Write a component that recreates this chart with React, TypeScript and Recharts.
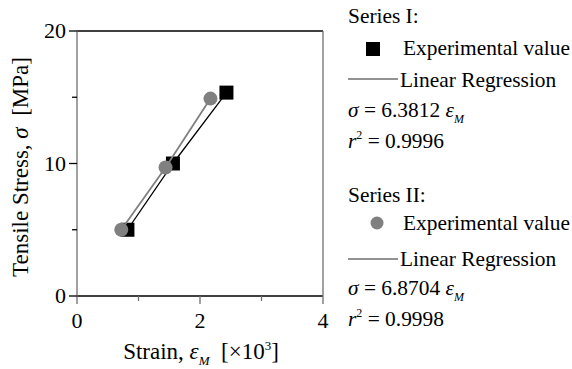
import React from "react";
import { ScatterChart, Scatter, XAxis, YAxis } from "recharts";

// Series I: squares (black), Series II: circles (gray)
const seriesOneStrain = [0.82, 1.56, 2.43];
const seriesOneStress = [5.0, 10.0, 15.35];
const seriesTwoStrain = [0.72, 1.44, 2.17];
const seriesTwoStress = [5.0, 9.7, 14.9];

const xTicks = [0, 1, 2, 3, 4];
const xMajor = [0, 2, 4];
const yTicks = [0, 5, 10, 15, 20];
const yMajor = [0, 10, 20];

const FONT = "'Liberation Serif', 'Times New Roman', serif";
const FS = 22;
const LEGEND_FS = 21.4;
const TITLE_FS = 23;
const GRAY = "#6e6e6e";

const seriesOne = seriesOneStrain.map((x, i) => ({ x, y: seriesOneStress[i] }));
const seriesTwo = seriesTwoStrain.map((x, i) => ({ x, y: seriesTwoStress[i] }));

function BottomTick(props: any) {
  const { x, y, payload } = props;
  const major = xMajor.includes(payload.value);
  return (
    <g>
      <line x1={x} x2={x} y1={y} y2={y + (major ? 8 : 5)} stroke={GRAY} strokeWidth={1.3} />
      {major && (
        <text x={x} y={y + 32} textAnchor="middle" fontSize={FS} fontFamily={FONT} fill="#000">
          {payload.value}
        </text>
      )}
    </g>
  );
}

function TopTick(props: any) {
  const { x, y, payload } = props;
  const major = xMajor.includes(payload.value);
  return <line x1={x} x2={x} y1={y} y2={y - (major ? 8 : 5)} stroke={GRAY} strokeWidth={1.3} />;
}

function LeftTick(props: any) {
  const { x, y, payload } = props;
  const major = yMajor.includes(payload.value);
  return (
    <g>
      <line x1={x} x2={x - (major ? 8 : 5)} y1={y} y2={y} stroke="#000" strokeWidth={1.3} />
      {major && (
        <text x={x - 11} y={y + 7} textAnchor="end" fontSize={FS} fontFamily={FONT} fill="#000">
          {payload.value}
        </text>
      )}
    </g>
  );
}

function RightTick(props: any) {
  const { x, y, payload } = props;
  const major = yMajor.includes(payload.value);
  return <line x1={x} x2={x + (major ? 8 : 5)} y1={y} y2={y} stroke="#000" strokeWidth={1.3} />;
}

const squareShape = (p: any) => <rect x={p.cx - 7} y={p.cy - 7} width={14} height={14} fill="#000" />;
const circleShape = (p: any) => <circle cx={p.cx} cy={p.cy} r={7} fill="#808080" />;

function Legend() {
  const t = { fontFamily: FONT, fontSize: LEGEND_FS, fill: "#000" } as const;
  const tt = { fontFamily: FONT, fontSize: TITLE_FS, fill: "#000" } as const;
  const eq = (y: number, slope: string, r2: string) => (
    <g>
      <text x={348} y={y} {...t} xmlSpace="preserve">
        <tspan fontStyle="italic">σ</tspan>{" = " + slope + " "}<tspan fontStyle="italic">ε</tspan>
        <tspan fontStyle="italic" fontSize={12} dy={6}>M</tspan>
      </text>
      <text x={348} y={y + 31} {...t}>
        <tspan fontStyle="italic">r</tspan>
        <tspan fontSize={12} dy={-9}>2</tspan>
        <tspan dy={9}> = {r2}</tspan>
      </text>
    </g>
  );
  return (
    <svg width={572} height={369} style={{ position: "absolute", left: 0, top: 0, pointerEvents: "none" }}>
      <text x={348} y={23} {...t}>Series I:</text>
      <rect x={366} y={42} width={14} height={14} fill="#000" />
      <text x={403} y={55} {...t}>Experimental value</text>
      <line x1={348} x2={398} y1={79} y2={79} stroke={GRAY} strokeWidth={1.3} />
      <text x={400} y={87} {...t}>Linear Regression</text>
      {eq(117, "6.3812", "0.9996")}

      <text x={348} y={202} {...t}>Series II:</text>
      <circle cx={377} cy={223} r={6.5} fill="#808080" />
      <text x={403} y={230} {...t}>Experimental value</text>
      <line x1={348} x2={398} y1={259} y2={259} stroke={GRAY} strokeWidth={1.3} />
      <text x={400} y={266} {...t}>Linear Regression</text>
      {eq(295, "6.8704", "0.9998")}

      {/* axis titles */}
      <text x={201} y={359} textAnchor="middle" {...tt} xmlSpace="preserve">
        {"Strain, "}<tspan fontStyle="italic">ε</tspan>
        <tspan fontStyle="italic" fontSize={13} dy={6}>M</tspan>
        <tspan dy={-6}>{"  [×10"}</tspan>
        <tspan fontSize={13} dy={-9}>3</tspan>
        <tspan dy={9}>]</tspan>
      </text>
      <text x={28} y={167} textAnchor="middle" transform="rotate(-90 28 167)" {...tt} xmlSpace="preserve">
        {"Tensile Stress, "}<tspan fontStyle="italic">σ</tspan>{"  [MPa]"}
      </text>
    </svg>
  );
}

export default function App() {
  return (
    <div style={{ position: "absolute", left: 0, top: 0, width: 572, height: 369, background: "#fff" }}>
      <ScatterChart width={572} height={369} margin={{ top: 30, right: 248, bottom: 72, left: 76 }}>
        <XAxis
          dataKey="x"
          type="number"
          domain={[0, 4]}
          ticks={xTicks}
          height={1}
          tickSize={0}
          tickMargin={0}
          tickLine={false}
          axisLine={{ stroke: "#000", strokeWidth: 1.3 }}
          tick={<BottomTick />}
          interval={0}
        />
        <XAxis
          xAxisId="top"
          orientation="top"
          type="number"
          domain={[0, 4]}
          ticks={xTicks}
          height={1}
          tickSize={0}
          tickMargin={0}
          tickLine={false}
          axisLine={{ stroke: "#000", strokeWidth: 1.3 }}
          tick={<TopTick />}
          interval={0}
        />
        <YAxis
          dataKey="y"
          type="number"
          domain={[0, 20]}
          ticks={yTicks}
          width={1}
          tickSize={0}
          tickMargin={0}
          tickLine={false}
          axisLine={{ stroke: GRAY, strokeWidth: 1.3 }}
          tick={<LeftTick />}
          interval={0}
        />
        <YAxis
          yAxisId="right"
          orientation="right"
          type="number"
          domain={[0, 20]}
          ticks={yTicks}
          width={1}
          tickSize={0}
          tickMargin={0}
          tickLine={false}
          axisLine={{ stroke: GRAY, strokeWidth: 1.3 }}
          tick={<RightTick />}
          interval={0}
        />
        <Scatter
          data={seriesOne}
          shape={squareShape}
          line={{ stroke: "#000", strokeWidth: 1.3 }}
          lineType="joint"
          isAnimationActive={false}
        />
        <Scatter
          data={seriesTwo}
          shape={circleShape}
          line={{ stroke: "#808080", strokeWidth: 1.8 }}
          lineType="joint"
          isAnimationActive={false}
        />
      </ScatterChart>
      <Legend />
    </div>
  );
}
